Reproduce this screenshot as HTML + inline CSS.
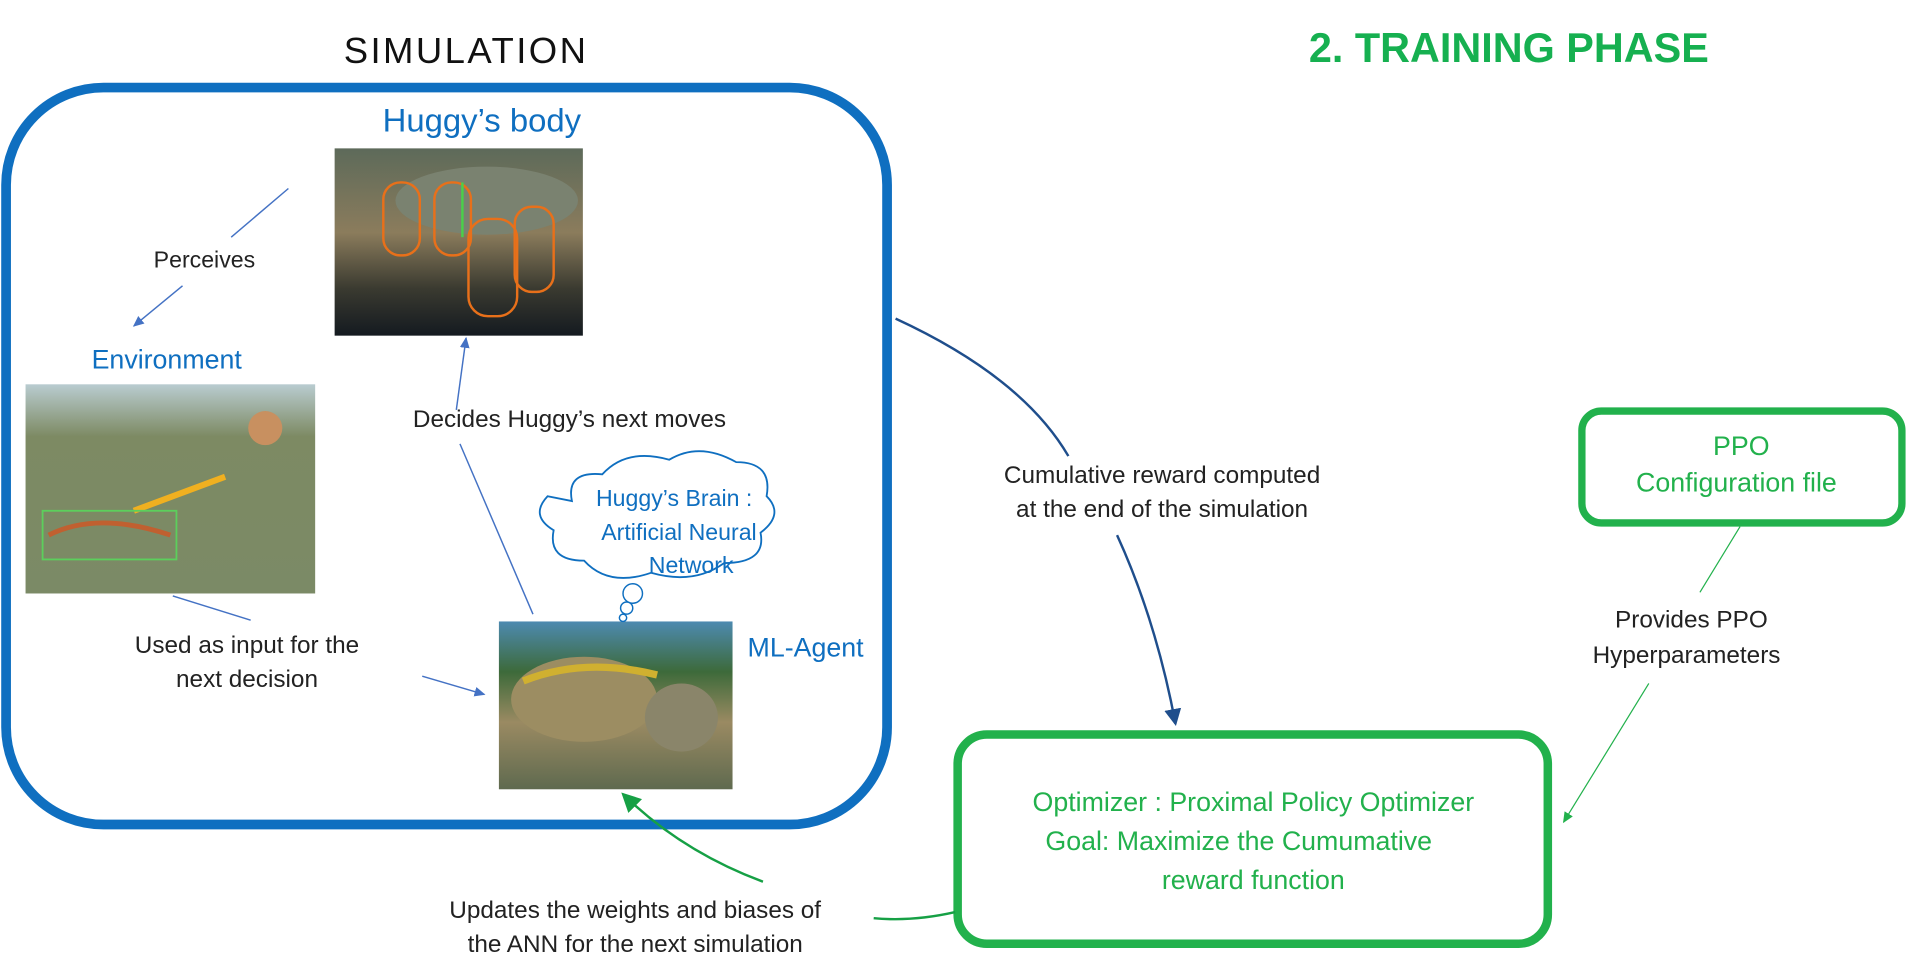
<!DOCTYPE html>
<html><head><meta charset="utf-8"><style>
html,body{margin:0;padding:0;background:#fff;}
svg{display:block;}
text{font-family:"Liberation Sans",sans-serif;}
</style></head><body>
<svg width="1908" height="979" viewBox="0 0 1568 805" preserveAspectRatio="none" xmlns="http://www.w3.org/2000/svg">
<defs>
<marker id="ab" markerWidth="10" markerHeight="10" refX="8" refY="5" orient="auto" markerUnits="userSpaceOnUse"><path d="M0,1 L9,5 L0,9 z" fill="#4472c4"/></marker>
<marker id="an" markerWidth="16" markerHeight="16" refX="12" refY="8" orient="auto" markerUnits="userSpaceOnUse"><path d="M0,1 L14,8 L0,15 z" fill="#1f4e8c"/></marker>
<marker id="ag" markerWidth="18" markerHeight="18" refX="14" refY="9" orient="auto" markerUnits="userSpaceOnUse"><path d="M0,1 L16,9 L0,17 z" fill="#16a045"/></marker>
<marker id="ag2" markerWidth="10" markerHeight="10" refX="8" refY="5" orient="auto" markerUnits="userSpaceOnUse"><path d="M0,1 L9,5 L0,9 z" fill="#22b14c"/></marker>
<linearGradient id="gb" x1="0" y1="0" x2="0" y2="1"><stop offset="0" stop-color="#5d6a5a"/><stop offset="0.45" stop-color="#8b7c5c"/><stop offset="0.75" stop-color="#3a3a30"/><stop offset="1" stop-color="#141a20"/></linearGradient>
<linearGradient id="ge" x1="0" y1="0" x2="0" y2="1"><stop offset="0" stop-color="#b9ccd0"/><stop offset="0.25" stop-color="#7d8a63"/><stop offset="1" stop-color="#7b8a66"/></linearGradient>
<linearGradient id="gm" x1="0" y1="0" x2="0" y2="1"><stop offset="0" stop-color="#4d8ab0"/><stop offset="0.3" stop-color="#3d6a3a"/><stop offset="0.6" stop-color="#9a8a62"/><stop offset="1" stop-color="#5f6a4f"/></linearGradient>
</defs>

<text x="383" y="52" font-size="30" text-anchor="middle" fill="#111" letter-spacing="2">SIMULATION</text>
<text x="1240" y="51" font-size="34" font-weight="bold" text-anchor="middle" fill="#16b050">2. TRAINING PHASE</text>

<rect x="5" y="72" width="724" height="606" rx="80" fill="none" stroke="#0f6fc0" stroke-width="8"/>

<text x="396" y="108" font-size="27" text-anchor="middle" fill="#0f6fc0">Huggy’s body</text>
<rect x="275" y="122" width="204" height="154" fill="url(#gb)"/>
<ellipse cx="400" cy="165" rx="75" ry="28" fill="#7a8270"/>
<rect x="315" y="150" width="30" height="60" rx="14" fill="none" stroke="#e8701a" stroke-width="2"/>
<rect x="357" y="150" width="30" height="60" rx="14" fill="none" stroke="#e8701a" stroke-width="2"/>
<rect x="385" y="180" width="40" height="80" rx="16" fill="none" stroke="#e8701a" stroke-width="2"/>
<rect x="423" y="170" width="32" height="70" rx="14" fill="none" stroke="#e8701a" stroke-width="2"/>
<line x1="380" y1="195" x2="380" y2="150" stroke="#4ad04a" stroke-width="2"/>

<text x="137" y="303" font-size="22" text-anchor="middle" fill="#0f6fc0">Environment</text>
<rect x="21" y="316" width="238" height="172" fill="url(#ge)"/>
<line x1="110" y1="420" x2="185" y2="392" stroke="#f0b020" stroke-width="5"/>
<circle cx="218" cy="352" r="14" fill="#c89060"/>
<rect x="35" y="420" width="110" height="40" fill="none" stroke="#5ccf5c" stroke-width="1.5"/>
<path d="M40 440 q40 -20 100 0" stroke="#c06030" stroke-width="4" fill="none"/>

<rect x="410" y="511" width="192" height="138" fill="url(#gm)"/>
<ellipse cx="480" cy="575" rx="60" ry="35" fill="#9c8d62"/>
<path d="M430 560 q50 -20 110 -5" stroke="#d0b030" stroke-width="6" fill="none"/>
<ellipse cx="560" cy="590" rx="30" ry="28" fill="#8a856a"/>
<text x="662" y="540" font-size="22" text-anchor="middle" fill="#0f6fc0">ML-Agent</text>

<path d="M470 412 q-5 -25 25 -22 q20 -22 55 -12 q25 -15 55 2 q30 0 25 28 q15 15 -5 30 q5 25 -30 25 q-25 18 -60 8 q-35 12 -55 -10 q-30 0 -25 -25 q-20 -12 -5 -28 z" fill="#fff" stroke="#0f6fc0" stroke-width="1.5"/>
<circle cx="520" cy="488" r="8" fill="#fff" stroke="#0f6fc0" stroke-width="1.2"/>
<circle cx="515" cy="500" r="5" fill="#fff" stroke="#0f6fc0" stroke-width="1.2"/>
<circle cx="512" cy="508" r="3" fill="#fff" stroke="#0f6fc0" stroke-width="1.2"/>
<text x="554" y="416" font-size="19" text-anchor="middle" fill="#0f6fc0">Huggy’s Brain :</text>
<text x="558" y="444" font-size="19" text-anchor="middle" fill="#0f6fc0">Artificial Neural</text>
<text x="568" y="471" font-size="19" text-anchor="middle" fill="#0f6fc0">Network</text>

<line x1="237" y1="155" x2="190" y2="195" stroke="#4472c4" stroke-width="1.2"/>
<text x="168" y="220" font-size="19" text-anchor="middle" fill="#222">Perceives</text>
<line x1="150" y1="235" x2="110" y2="268" stroke="#4472c4" stroke-width="1.2" marker-end="url(#ab)"/>

<line x1="375" y1="337" x2="383" y2="278" stroke="#4472c4" stroke-width="1.2" marker-end="url(#ab)"/>
<text x="468" y="351" font-size="20" text-anchor="middle" fill="#222">Decides Huggy’s next moves</text>
<line x1="378" y1="365" x2="438" y2="505" stroke="#4472c4" stroke-width="1.2"/>

<line x1="142" y1="490" x2="206" y2="510" stroke="#4472c4" stroke-width="1.2"/>
<text x="203" y="537" font-size="20" text-anchor="middle" fill="#222">Used as input for the</text>
<text x="203" y="565" font-size="20" text-anchor="middle" fill="#222">next decision</text>
<line x1="347" y1="556" x2="398" y2="571" stroke="#4472c4" stroke-width="1.2" marker-end="url(#ab)"/>

<path d="M736 262 Q840 310 878 375" stroke="#1f4e8c" stroke-width="2" fill="none"/>
<text x="955" y="397" font-size="20" text-anchor="middle" fill="#222">Cumulative reward computed</text>
<text x="955" y="425" font-size="20" text-anchor="middle" fill="#222">at the end of the simulation</text>
<path d="M918 440 Q950 510 966 595" stroke="#1f4e8c" stroke-width="2" fill="none" marker-end="url(#an)"/>

<rect x="1300" y="338" width="263" height="92" rx="16" fill="none" stroke="#22b14c" stroke-width="6"/>
<text x="1431" y="374" font-size="22" text-anchor="middle" fill="#22b14c">PPO</text>
<text x="1427" y="404" font-size="22" text-anchor="middle" fill="#22b14c">Configuration file</text>
<line x1="1430" y1="433" x2="1397" y2="487" stroke="#22b14c" stroke-width="1"/>
<text x="1390" y="516" font-size="20" text-anchor="middle" fill="#222">Provides PPO</text>
<text x="1386" y="545" font-size="20" text-anchor="middle" fill="#222">Hyperparameters</text>
<line x1="1355" y1="562" x2="1285" y2="676" stroke="#22b14c" stroke-width="1" marker-end="url(#ag2)"/>

<rect x="787" y="604" width="485" height="172" rx="24" fill="none" stroke="#22b14c" stroke-width="7"/>
<text x="1030" y="667" font-size="22" text-anchor="middle" fill="#22b14c">Optimizer : Proximal Policy Optimizer</text>
<text x="1018" y="699" font-size="22" text-anchor="middle" fill="#22b14c">Goal: Maximize the Cumumative</text>
<text x="1030" y="731" font-size="22" text-anchor="middle" fill="#22b14c">reward function</text>

<path d="M785 750 Q750 758 718 755" stroke="#16a045" stroke-width="2" fill="none"/>
<path d="M627 725 Q560 700 512 653" stroke="#16a045" stroke-width="2" fill="none" marker-end="url(#ag)"/>
<text x="522" y="755" font-size="20" text-anchor="middle" fill="#222">Updates the weights and biases of</text>
<text x="522" y="783" font-size="20" text-anchor="middle" fill="#222">the ANN for the next simulation</text>
</svg>
</body></html>
